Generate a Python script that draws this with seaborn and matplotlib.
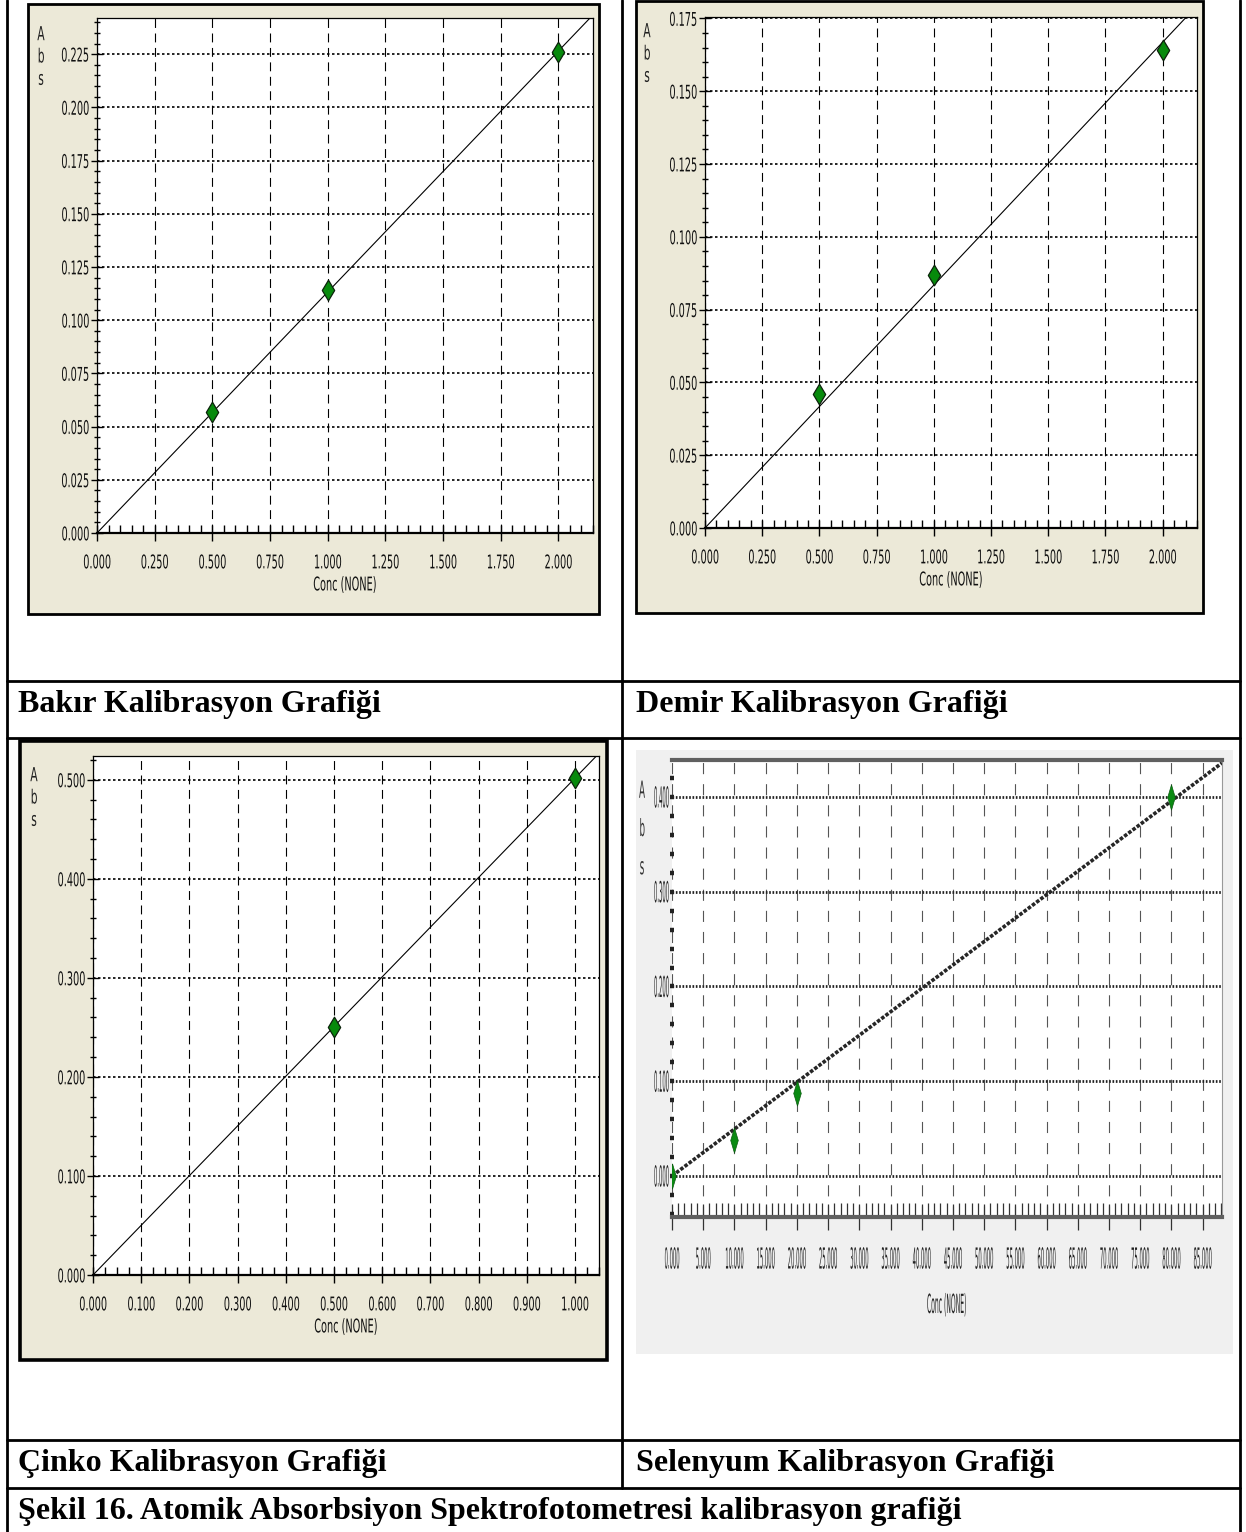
import numpy as np
import seaborn as sns
import matplotlib.pyplot as plt
from matplotlib.patches import Rectangle
from matplotlib.lines import Line2D
from matplotlib.patheffects import AbstractPathEffect
from matplotlib.transforms import Affine2D
from matplotlib.ticker import MultipleLocator, FormatStrFormatter

# --- data ---
cu_conc = [0.5, 1.0, 2.0]
cu_abs = [0.057, 0.114, 0.226]

fe_conc = [0.5, 1.0, 2.0]
fe_abs = [0.046, 0.087, 0.164]

zn_conc = [0.5, 1.0]
zn_abs = [0.250, 0.502]

se_conc = [0.0, 10.0, 20.0, 80.0]
se_abs = [0.000, 0.038, 0.088, 0.400]

captions = ["Bakır Kalibrasyon Grafiği", "Demir Kalibrasyon Grafiği",
            "Çinko Kalibrasyon Grafiği", "Selenyum Kalibrasyon Grafiği"]
figure_caption = "Şekil 16. Atomik Absorbsiyon Spektrofotometresi kalibrasyon grafiği"

sns.set_style("ticks")
plt.rcParams['font.family'] = ['DejaVu Sans']

W, H = 1246, 1532
fig = plt.figure(figsize=(W / 100, H / 100), dpi=100)
fig.patch.set_facecolor('white')


class Squeeze(AbstractPathEffect):
    # rescale glyphs around their ink box, like the narrow instrument-software font
    def __init__(self, sx, anchor='center', sy=1.0):
        super().__init__()
        self.sx = sx
        self.sy = sy
        self.anchor = anchor

    def draw_path(self, renderer, gc, tpath, affine, rgbFace=None):
        ext = tpath.get_extents(affine)
        if self.anchor == 'right':
            cx = ext.x1
        elif self.anchor == 'left':
            cx = ext.x0
        else:
            cx = (ext.x0 + ext.x1) / 2
        cy = (ext.y0 + ext.y1) / 2
        t = affine + Affine2D().translate(-cx, -cy).scale(self.sx, self.sy).translate(cx, cy)
        renderer.draw_path(gc, tpath, t, rgbFace)


def box(x0, y0, x1, y1):
    return [x0 / W, 1 - y1 / H, (x1 - x0) / W, (y1 - y0) / H]


def ftext(x, y, s, **kw):
    return fig.text(x / W, 1 - y / H, s, **kw)


def hline(y, x0=7, x1=1240):
    fig.add_artist(Line2D([x0 / W, x1 / W], [1 - y / H, 1 - y / H], color='black',
                          lw=2.0, transform=fig.transFigure))


def vline(x, y0=0, y1=H):
    fig.add_artist(Line2D([x / W, x / W], [1 - y0 / H, 1 - y1 / H], color='black',
                          lw=2.0, transform=fig.transFigure))


def frame(x0, y0, x1, y1, face, edge, lw):
    fig.add_artist(Rectangle((x0 / W, 1 - y1 / H), (x1 - x0) / W, (y1 - y0) / H,
                             transform=fig.transFigure, facecolor=face,
                             edgecolor=edge, lw=lw, zorder=-1))


def fit_line(ax, conc, ab, xmax, **kw):
    c = np.array(conc)
    a = np.array(ab)
    slope = (c * a).sum() / (c * c).sum()
    xs = np.array([0.0, xmax])
    sns.lineplot(x=xs, y=slope * xs, ax=ax, **kw)


squeeze = []  # (axes, sx, sy) - tick labels get reshaped after first draw


def old_style_chart(rect, conc, ab, xlim, ylim, xmaj, xmin, ymaj, ymin, abs_pos):
    ax = fig.add_axes(box(*rect))
    ax.set_facecolor('white')
    fit_line(ax, conc, ab, xlim[1], color='black', lw=0.8)
    sns.scatterplot(x=conc, y=ab, ax=ax, marker='d', s=110, color='#078a0c',
                    edgecolor='#0b220b', linewidth=0.9, zorder=5)
    ax.set_xlim(*xlim)
    ax.set_ylim(*ylim)
    ax.xaxis.set_major_locator(MultipleLocator(xmaj))
    ax.xaxis.set_minor_locator(MultipleLocator(xmin))
    ax.yaxis.set_major_locator(MultipleLocator(ymaj))
    ax.yaxis.set_minor_locator(MultipleLocator(ymin))
    ax.xaxis.set_major_formatter(FormatStrFormatter('%.3f'))
    ax.yaxis.set_major_formatter(FormatStrFormatter('%.3f'))
    ax.grid(axis='x', which='major', color='black', lw=0.8, ls=(0, (8, 5)))
    ax.grid(axis='y', which='major', color='black', lw=1.2, ls=(0, (1.5, 1.5)))
    ax.set_axisbelow(True)
    for s in ax.spines.values():
        s.set_color('black')
        s.set_linewidth(0.9)
    ax.spines['bottom'].set_linewidth(1.6)
    ax.tick_params(axis='x', which='major', direction='inout', length=12, width=1,
                   color='black', labelsize=7, labelcolor='#111111', pad=11.3)
    ax.tick_params(axis='x', which='minor', direction='in', length=6, width=1,
                   color='black')
    ax.tick_params(axis='y', which='major', direction='inout', length=8, width=1,
                   color='black', labelsize=7, labelcolor='#111111', pad=1.7)
    ax.tick_params(axis='y', which='minor', direction='inout', length=5, width=1,
                   color='black')
    ax.set_xlabel('Conc (NONE)', fontsize=7, color='#111111', labelpad=9,
                  path_effects=[Squeeze(1.0, 'center', 1.95)])
    ax.set_ylabel('')
    ftext(abs_pos[0], abs_pos[1], 'A\nb\ns', fontsize=14, ha='center', va='center',
          linespacing=1.22, color='#222222', path_effects=[Squeeze(0.55)])
    squeeze.append((ax, 1.0, 1.95))
    return ax


# --- table lines ---
for y in (681, 738, 1440, 1488):
    hline(y)
vline(7)
vline(1240)
vline(622, 0, 1488)

# --- panel frames ---
frame(28, 4, 599, 614, '#ece9d8', 'black', 2.0)
frame(636, 1, 1203, 613, '#ece9d8', 'black', 2.0)
frame(20, 741, 607, 1360, '#ece9d8', 'black', 2.6)
frame(636, 750, 1233, 1354, '#f0f0f0', 'none', 0)

# Bakır
old_style_chart((97, 18, 593, 533), cu_conc, cu_abs, (0, 2.15), (0, 0.242),
                0.25, 0.05, 0.025, 0.005, (41, 57))
# Demir
old_style_chart((705, 17, 1197, 528), fe_conc, fe_abs, (0, 2.15), (0, 0.1755),
                0.25, 0.05, 0.025, 0.005, (647, 54))
# Çinko
old_style_chart((93, 756, 599, 1275), zn_conc, zn_abs, (0, 1.05), (0, 0.524),
                0.1, 0.025, 0.1, 0.02, (34, 798))

# Selenyum (stretched screenshot: tall, very narrow lettering)
se_marker = [(0, 1.5), (0.45, 0), (0, -1.5), (-0.45, 0), (0, 1.5)]
ax = fig.add_axes(box(672, 760, 1222, 1217))
ax.set_facecolor('white')
fit_line(ax, se_conc, se_abs, 88.1, color='#262626', lw=2.6, ls=(0, (1, 0.45)))
sns.scatterplot(x=se_conc, y=se_abs, ax=ax, marker=se_marker, s=330, color='#0a8a12',
                edgecolor='#0a5a10', linewidth=0.5, zorder=5)
ax.set_xlim(0, 88.1)
ax.set_ylim(-0.0433, 0.439)
ax.xaxis.set_major_locator(MultipleLocator(5))
ax.xaxis.set_minor_locator(MultipleLocator(1))
ax.yaxis.set_major_locator(MultipleLocator(0.1))
ax.yaxis.set_minor_locator(MultipleLocator(0.02))
ax.xaxis.set_major_formatter(FormatStrFormatter('%.3f'))
ax.yaxis.set_major_formatter(FormatStrFormatter('%.3f'))
ax.grid(axis='x', which='major', color='#555555', lw=0.8, ls=(0, (10, 9)))
ax.grid(axis='y', which='major', color='#222222', lw=2.0, ls=(0, (0.6, 0.6)))
ax.set_axisbelow(True)
ax.spines['left'].set_visible(False)
for side in ('top', 'bottom'):
    ax.spines[side].set_color('#606060')
    ax.spines[side].set_linewidth(3.0)
ax.spines['right'].set_color('#999999')
ax.spines['right'].set_linewidth(0.8)
ax.tick_params(axis='x', which='major', direction='inout', length=19, width=0.9,
               color='#333333', labelsize=4, labelcolor='#222222', pad=18.6)
ax.tick_params(axis='x', which='minor', direction='in', length=10, width=0.9,
               color='#333333')
ax.tick_params(axis='y', which='both', direction='inout', length=3, width=3.2,
               color='#222222', labelsize=4, labelcolor='#222222', pad=0.7)
ax.set_xlabel('Conc (NONE)', fontsize=19, color='#222222', labelpad=23,
              path_effects=[Squeeze(0.23)])
ax.set_ylabel('')
ftext(642, 829, 'A\nb\ns', fontsize=17, ha='center', va='center', linespacing=1.75,
      color='#333333', path_effects=[Squeeze(0.37)])
squeeze.append((ax, 0.95, 5.2))

# --- captions ---
cap = dict(family=['Liberation Serif', 'DejaVu Serif'], fontweight='bold',
           fontsize=23, va='center', ha='left', color='black')
ftext(18, 704, captions[0], **cap)
ftext(636, 704, captions[1], **cap)
ftext(18, 1464, captions[2], **cap)
ftext(636, 1464, captions[3], **cap)
ftext(18, 1512, figure_caption, **cap)

# reshape the tick labels once the ticks exist
fig.canvas.draw()
for ax, sx, sy in squeeze:
    for tick in ax.xaxis.get_major_ticks():
        tick.label1.set_path_effects([Squeeze(sx, 'center', sy)])
    for tick in ax.yaxis.get_major_ticks():
        tick.label1.set_path_effects([Squeeze(sx, 'right', sy)])

fig.savefig('out.png', dpi=100)
